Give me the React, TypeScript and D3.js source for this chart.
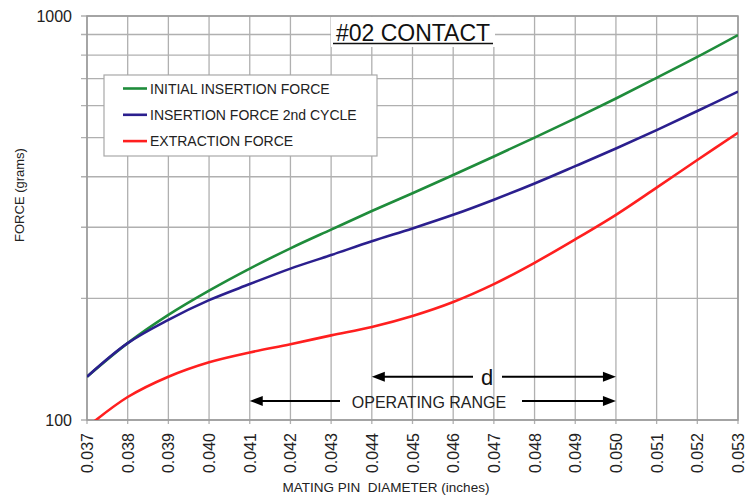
import React from 'react';
import * as d3 from 'd3';

const diameters = [0.037, 0.038, 0.039, 0.04, 0.041, 0.042, 0.043, 0.044, 0.045, 0.046, 0.047, 0.048, 0.049, 0.05, 0.051, 0.052, 0.053];

const initialInsertion = [128, 155, 182, 209, 237, 266, 296, 329, 364, 404, 449, 500, 558, 625, 703, 792, 897];
const insertion2nd = [128, 155, 177, 198, 217, 237, 256, 277, 298, 322, 351, 385, 425, 470, 522, 582, 650];
// extraction curve starts just below 100 and gets clipped at the axis
const extraction = [96, 114, 128, 139, 147, 154, 162, 170, 181, 196, 217, 245, 280, 322, 376, 440, 514];

const yGrid = [100, 200, 300, 400, 500, 600, 700, 800, 900, 1000];
const yLabels = [100, 1000];

const series = [
    { name: 'INITIAL INSERTION FORCE', color: '#1f8c3b', ys: initialInsertion },
    { name: 'INSERTION FORCE 2nd CYCLE', color: '#2b1f8e', ys: insertion2nd },
    { name: 'EXTRACTION FORCE', color: '#ff1f1f', ys: extraction },
];

// annotation arrows: [from, to, level]
const dRange = [0.044, 0.05, 128];
const operatingRange = [0.041, 0.05, 111.5];

const FONT = '"Liberation Sans", Arial, Helvetica, sans-serif';

export default function App() {
    const width = 752;
    const height = 495;
    const margin = { top: 16, right: 14, bottom: 75, left: 87 };
    const x0 = margin.left;
    const x1 = width - margin.right;
    const y0 = height - margin.bottom;
    const y1 = margin.top;

    const x = d3.scaleLinear().domain([0.037, 0.053]).range([x0, x1]);
    const y = d3.scaleLog().domain([100, 1000]).range([y0, y1]);

    const line = d3
        .line<[number, number]>()
        .x((d) => x(d[0]))
        .y((d) => y(d[1]))
        .curve(d3.curveCatmullRom.alpha(0.5));

    const arrow = (r: number[], gapFrom: number, gapTo: number, key: string) => {
        const yy = y(r[2]);
        const a = x(r[0]);
        const b = x(r[1]);
        const head = 13;
        const hw = 5;
        return (
            <g key={key}>
                <line x1={a + head - 1} x2={gapFrom} y1={yy} y2={yy} stroke="#000" strokeWidth={2} />
                <line x1={gapTo} x2={b - head + 1} y1={yy} y2={yy} stroke="#000" strokeWidth={2} />
                <path d={`M${a},${yy}L${a + head},${yy - hw}L${a + head},${yy + hw}Z`} fill="#000" />
                <path d={`M${b},${yy}L${b - head},${yy - hw}L${b - head},${yy + hw}Z`} fill="#000" />
            </g>
        );
    };

    return (
        <svg
            width={width}
            height={height}
            style={{ position: 'absolute', left: 0, top: 0, background: '#fff' }}
            fontFamily={FONT}
        >
            <defs>
                <clipPath id="plot">
                    <rect x={x0} y={y1} width={x1 - x0} height={y0 - y1} />
                </clipPath>
            </defs>
            <rect x={0} y={0} width={width} height={height} fill="#fff" />

            {/* grid */}
            {diameters.map((d) => (
                <line key={'vx' + d} x1={x(d)} x2={x(d)} y1={y1} y2={y0 + 4} stroke="#b0b0b0" strokeWidth={1.3} />
            ))}
            {yGrid.map((v) => (
                <line key={'hy' + v} x1={x0 - 6} x2={x1} y1={y(v)} y2={y(v)} stroke="#b0b0b0" strokeWidth={1.3} />
            ))}
            <rect x={x0} y={y1} width={x1 - x0} height={y0 - y1} fill="none" stroke="#999" strokeWidth={1.5} />

            {/* title with white backing */}
            <rect x={331} y={y1 + 1} width={164} height={30} fill="#fff" />
            <text x={413} y={41} textAnchor="middle" fontSize={23} fill="#111">
                #02 CONTACT
            </text>
            <line x1={333} x2={493} y1={43.5} y2={43.5} stroke="#111" strokeWidth={1.5} />

            {/* curves */}
            <g clipPath="url(#plot)">
                {series.map((s) => (
                    <path
                        key={s.name}
                        d={line(diameters.map((xv, i) => [xv, s.ys[i]] as [number, number])) || ''}
                        fill="none"
                        stroke={s.color}
                        strokeWidth={2.6}
                    />
                ))}
            </g>

            {/* legend */}
            <rect x={104} y={75} width={273} height={81} fill="#fff" stroke="#a8a8a8" strokeWidth={1.2} />
            {series.map((s, i) => (
                <g key={'lg' + i} transform={`translate(0, ${88.5 + i * 26.3})`}>
                    <line x1={123} x2={147} y1={0} y2={0} stroke={s.color} strokeWidth={2.6} />
                    <text x={150} y={5} fontSize={14} fill="#222">
                        {s.name}
                    </text>
                </g>
            ))}

            {/* annotations */}
            {arrow(dRange, 473, 502, 'd')}
            <text x={487} y={385} textAnchor="middle" fontSize={22} fill="#111">
                d
            </text>
            {arrow(operatingRange, 340, 522, 'op')}
            <text x={429} y={408} textAnchor="middle" fontSize={16} fill="#222">
                OPERATING RANGE
            </text>

            {/* y labels */}
            {yLabels.map((v) => (
                <text key={'yl' + v} x={x0 - 15} y={y(v) + 6} textAnchor="end" fontSize={16} fill="#222">
                    {v}
                </text>
            ))}
            <text transform={`translate(24, 195) rotate(-90)`} textAnchor="middle" fontSize={13} fill="#222">
                FORCE (grams)
            </text>

            {/* x labels */}
            {diameters.map((d) => (
                <text
                    key={'xl' + d}
                    transform={`translate(${x(d) + 6}, ${y0 + 13}) rotate(-90)`}
                    textAnchor="end"
                    fontSize={16}
                    fill="#222"
                >
                    {d3.format('.3f')(d)}
                </text>
            ))}
            <text x={386} y={492} textAnchor="middle" fontSize={13.5} fill="#222" style={{ whiteSpace: 'pre' }}>
                {'MATING PIN  DIAMETER (inches)'}
            </text>
        </svg>
    );
}
